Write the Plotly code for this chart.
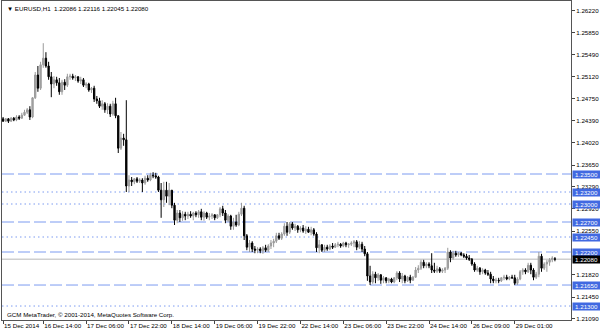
import plotly.graph_objects as go

# ---------------- data (EURUSD H1) ----------------
opens = [
1.2442,1.2438,1.2442,1.2438,1.2443,1.2440,1.2445,1.2443,1.2448,1.2453,
1.2457,1.2445,1.2477,1.2515,1.2493,1.2532,1.2543,1.2530,1.2512,1.2500,
1.2507,1.2502,1.2487,1.2503,1.2498,1.2512,1.2513,1.2510,1.2512,1.2505,
1.2507,1.2498,1.2500,1.2490,1.2493,1.2475,1.2472,1.2463,1.2467,1.2457,
1.2463,1.2450,1.2467,1.2447,1.2393,1.2410,1.2407,1.2330,1.2340,1.2337,
1.2342,1.2338,1.2340,1.2335,1.2343,1.2340,1.2348,1.2347,1.2345,1.2323,
1.2307,1.2323,1.2313,1.2323,1.2298,1.2273,1.2285,1.2277,1.2283,1.2280,
1.2283,1.2280,1.2285,1.2282,1.2287,1.2278,1.2285,1.2278,1.2280,1.2282,
1.2277,1.2282,1.2292,1.2285,1.2273,1.2280,1.2263,1.2270,1.2265,1.2283,
1.2293,1.2247,1.2228,1.2235,1.2225,1.2223,1.2225,1.2222,1.2227,1.2223,
1.2230,1.2235,1.2238,1.2247,1.2243,1.2250,1.2263,1.2253,1.2267,1.2260,
1.2263,1.2257,1.2260,1.2255,1.2258,1.2253,1.2257,1.2250,1.2227,1.2232,
1.2223,1.2228,1.2225,1.2230,1.2228,1.2232,1.2233,1.2230,1.2235,1.2232,
1.2233,1.2235,1.2237,1.2228,1.2233,1.2225,1.2217,1.2180,1.2170,1.2183,
1.2177,1.2182,1.2173,1.2177,1.2172,1.2175,1.2170,1.2177,1.2185,1.2175,
1.2180,1.2172,1.2178,1.2173,1.2178,1.2190,1.2193,1.2203,1.2197,1.2200,
1.2197,1.2190,1.2188,1.2192,1.2188,1.2190,1.2193,1.2220,1.2210,1.2218,
1.2215,1.2218,1.2215,1.2213,1.2210,1.2208,1.2200,1.2190,1.2193,1.2187,
1.2190,1.2185,1.2183,1.2175,1.2172,1.2173,1.2172,1.2177,1.2178,1.2175,
1.2178,1.2177,1.2168,1.2175,1.2187,1.2190,1.2187,1.2198,1.2190,1.2178,
1.2183,1.2213,1.2193,1.2200,1.2203,1.2207,1.22086]

highs = [
1.2445,1.2443,1.2443,1.2445,1.2445,1.2448,1.2448,1.2452,1.2457,1.2460,
1.2463,1.2478,1.2520,1.2530,1.2537,1.2568,1.2553,1.2537,1.2520,1.2513,
1.2512,1.2510,1.2507,1.2508,1.2517,1.2517,1.2517,1.2515,1.2513,1.2512,
1.2510,1.2503,1.2502,1.2495,1.2497,1.2480,1.2477,1.2473,1.2470,1.2468,
1.2467,1.2472,1.2477,1.2448,1.2420,1.2417,1.2473,1.2348,1.2345,1.2343,
1.2345,1.2343,1.2343,1.2347,1.2348,1.2352,1.2353,1.2352,1.2347,1.2335,
1.2337,1.2337,1.2335,1.2323,1.2302,1.2290,1.2290,1.2288,1.2287,1.2287,
1.2288,1.2287,1.2288,1.2290,1.2292,1.2288,1.2287,1.2285,1.2285,1.2283,
1.2283,1.2295,1.2297,1.2290,1.2283,1.2282,1.2277,1.2282,1.2287,1.2302,
1.2297,1.2250,1.2240,1.2238,1.2230,1.2228,1.2228,1.2230,1.2232,1.2233,
1.2240,1.2242,1.2252,1.2252,1.2253,1.2268,1.2270,1.2270,1.2270,1.2267,
1.2265,1.2263,1.2265,1.2263,1.2262,1.2262,1.2260,1.2253,1.2240,1.2233,
1.2232,1.2232,1.2233,1.2235,1.2235,1.2237,1.2235,1.2237,1.2237,1.2235,
1.2238,1.2240,1.2240,1.2238,1.2237,1.2230,1.2220,1.2197,1.2188,1.2187,
1.2185,1.2183,1.2180,1.2178,1.2177,1.2177,1.2178,1.2188,1.2188,1.2185,
1.2182,1.2180,1.2182,1.2180,1.2195,1.2198,1.2207,1.2207,1.2203,1.2203,
1.2218,1.2202,1.2197,1.2195,1.2193,1.2195,1.2227,1.2223,1.2222,1.2222,
1.2220,1.2220,1.2218,1.2217,1.2215,1.2210,1.2203,1.2197,1.2195,1.2193,
1.2192,1.2190,1.2187,1.2180,1.2177,1.2177,1.2178,1.2182,1.2182,1.2180,
1.2182,1.2182,1.2178,1.2190,1.2193,1.2193,1.2202,1.2202,1.2193,1.2187,
1.2220,1.2217,1.2203,1.2207,1.2210,1.2213,1.22116]

lows = [
1.2437,1.2437,1.2435,1.2437,1.2438,1.2438,1.2440,1.2442,1.2447,1.2450,
1.2440,1.2443,1.2475,1.2487,1.2490,1.2527,1.2527,1.2507,1.2478,1.2493,
1.2497,1.2482,1.2482,1.2490,1.2495,1.2507,1.2507,1.2505,1.2502,1.2500,
1.2495,1.2493,1.2487,1.2485,1.2470,1.2467,1.2460,1.2457,1.2452,1.2450,
1.2445,1.2447,1.2443,1.2385,1.2390,1.2397,1.2320,1.2320,1.2330,1.2333,
1.2335,1.2335,1.2320,1.2332,1.2337,1.2338,1.2343,1.2342,1.2320,1.2277,
1.2295,1.2302,1.2298,1.2293,1.2265,1.2268,1.2270,1.2272,1.2273,1.2275,
1.2277,1.2273,1.2278,1.2277,1.2273,1.2272,1.2275,1.2273,1.2275,1.2273,
1.2275,1.2278,1.2280,1.2268,1.2270,1.2257,1.2257,1.2262,1.2263,1.2280,
1.2240,1.2223,1.2220,1.2220,1.2218,1.2218,1.2218,1.2217,1.2220,1.2220,
1.2225,1.2228,1.2235,1.2240,1.2240,1.2247,1.2247,1.2250,1.2257,1.2255,
1.2252,1.2253,1.2252,1.2250,1.2252,1.2248,1.2247,1.2220,1.2218,1.2220,
1.2220,1.2222,1.2223,1.2225,1.2227,1.2228,1.2227,1.2228,1.2228,1.2227,
1.2230,1.2228,1.2223,1.2225,1.2220,1.2213,1.2172,1.2165,1.2167,1.2168,
1.2172,1.2167,1.2168,1.2168,1.2168,1.2168,1.2168,1.2173,1.2170,1.2168,
1.2168,1.2170,1.2168,1.2172,1.2177,1.2185,1.2190,1.2193,1.2193,1.2193,
1.2185,1.2185,1.2185,1.2185,1.2185,1.2185,1.2190,1.2203,1.2207,1.2212,
1.2212,1.2213,1.2210,1.2207,1.2205,1.2197,1.2187,1.2187,1.2182,1.2183,
1.2182,1.2180,1.2168,1.2168,1.2168,1.2168,1.2170,1.2173,1.2173,1.2173,
1.2175,1.2165,1.2165,1.2173,1.2182,1.2183,1.2185,1.2183,1.2173,1.2175,
1.2178,1.2187,1.2190,1.2187,1.2197,1.2203,1.22045]

closes = [
1.2438,1.2442,1.2438,1.2443,1.2440,1.2445,1.2443,1.2448,1.2453,1.2457,
1.2445,1.2477,1.2515,1.2493,1.2532,1.2543,1.2530,1.2512,1.2500,1.2507,
1.2502,1.2487,1.2503,1.2498,1.2512,1.2513,1.2510,1.2512,1.2505,1.2507,
1.2498,1.2500,1.2490,1.2493,1.2475,1.2472,1.2463,1.2467,1.2457,1.2463,
1.2450,1.2467,1.2447,1.2393,1.2410,1.2407,1.2330,1.2340,1.2337,1.2342,
1.2338,1.2340,1.2335,1.2343,1.2340,1.2348,1.2347,1.2345,1.2323,1.2307,
1.2323,1.2313,1.2323,1.2298,1.2273,1.2285,1.2277,1.2283,1.2280,1.2283,
1.2280,1.2285,1.2282,1.2287,1.2278,1.2285,1.2278,1.2280,1.2282,1.2277,
1.2282,1.2292,1.2285,1.2273,1.2280,1.2263,1.2270,1.2265,1.2283,1.2293,
1.2247,1.2228,1.2235,1.2225,1.2223,1.2225,1.2222,1.2227,1.2223,1.2230,
1.2235,1.2238,1.2247,1.2243,1.2250,1.2263,1.2253,1.2267,1.2260,1.2263,
1.2257,1.2260,1.2255,1.2258,1.2253,1.2257,1.2250,1.2227,1.2232,1.2223,
1.2228,1.2225,1.2230,1.2228,1.2232,1.2233,1.2230,1.2235,1.2232,1.2233,
1.2235,1.2237,1.2228,1.2233,1.2225,1.2217,1.2180,1.2170,1.2183,1.2177,
1.2182,1.2173,1.2177,1.2172,1.2175,1.2170,1.2177,1.2185,1.2175,1.2180,
1.2172,1.2178,1.2173,1.2178,1.2190,1.2193,1.2203,1.2197,1.2200,1.2197,
1.2190,1.2188,1.2192,1.2188,1.2190,1.2193,1.2220,1.2210,1.2218,1.2215,
1.2218,1.2215,1.2213,1.2210,1.2208,1.2200,1.2190,1.2193,1.2187,1.2190,
1.2185,1.2183,1.2175,1.2172,1.2173,1.2172,1.2177,1.2178,1.2175,1.2178,
1.2177,1.2168,1.2175,1.2187,1.2190,1.2187,1.2198,1.2190,1.2178,1.2183,
1.2213,1.2193,1.2200,1.2203,1.2207,1.2210,1.22080]

# time-axis labels (bar index -> label)
x_tick_bars = [0, 15, 31, 47, 63, 79, 95, 111, 127, 143, 159, 175, 191]
x_tick_labels = ["15 Dec 2014", "16 Dec 14:00", "17 Dec 06:00", "17 Dec 22:00",
                 "18 Dec 14:00", "19 Dec 06:00", "19 Dec 22:00", "22 Dec 14:00",
                 "23 Dec 06:00", "23 Dec 22:00", "24 Dec 14:00", "26 Dec 09:00",
                 "29 Dec 01:00"]

# price-axis labels (1.22180 is fully hidden behind the price boxes in the original)
y_ticks = [1.21090, 1.21450, 1.21820, 1.22550, 1.22920, 1.23290,
           1.23650, 1.24020, 1.24390, 1.24750, 1.25120, 1.25490, 1.25850, 1.26220]

# horizontal levels
dashed_levels = [1.23500, 1.22700, 1.22200, 1.21650]
dotted_levels = [1.23200, 1.23000, 1.22450, 1.21300]
current_price = 1.22080

header = "▼ EURUSD,H1  1.22086 1.22116 1.22045 1.22080"
footer = "GCM MetaTrader, © 2001-2014, MetaQuotes Software Corp."

# ---------------- figure ----------------
FONT = "Liberation Sans"
LINE_BLUE = "#7c9bf0"
BOX_BLUE = "#4169e1"
bars = list(range(len(closes)))

fig = go.Figure(go.Candlestick(
    x=bars, open=opens, high=highs, low=lows, close=closes,
    increasing=dict(line=dict(color="#9a9a9a", width=1), fillcolor="#a6a6a6"),
    decreasing=dict(line=dict(color="#000000", width=1), fillcolor="#000000"),
    whiskerwidth=0, showlegend=False, hoverinfo="skip"))

shapes = []
shapes.append(dict(type="line", xref="paper", x0=0, x1=1, yref="y",
                   y0=current_price, y1=current_price, layer="below",
                   line=dict(color="#cfcfcf", width=1.6)))
for lv in dashed_levels:
    shapes.append(dict(type="line", xref="paper", x0=0, x1=1, yref="y", y0=lv, y1=lv,
                       layer="below", line=dict(color=LINE_BLUE, width=1, dash="12px,4px")))
for lv in dotted_levels:
    shapes.append(dict(type="line", xref="paper", x0=0, x1=1, yref="y", y0=lv, y1=lv,
                       layer="below", line=dict(color=LINE_BLUE, width=1, dash="1.5px,3px")))

annotations = []
for lv in dashed_levels + dotted_levels:
    annotations.append(dict(xref="paper", x=1, xanchor="left", xshift=1,
                            yref="y", y=lv, yanchor="middle", text=f"{lv:.5f}",
                            showarrow=False, bgcolor=BOX_BLUE, width=27, height=7,
                            borderpad=0, font=dict(family=FONT, size=6.2, color="white")))
annotations.append(dict(xref="paper", x=1, xanchor="left", xshift=1,
                        yref="y", y=current_price, yanchor="middle", text=f"{current_price:.5f}",
                        showarrow=False, bgcolor="#000000", width=27, height=7,
                        borderpad=0, font=dict(family=FONT, size=6.2, color="white")))
annotations.append(dict(xref="paper", x=0, xanchor="left", xshift=3,
                        yref="paper", y=1, yanchor="top", yshift=-2,
                        text=header, showarrow=False,
                        font=dict(family=FONT, size=6.2, color="#000")))
annotations.append(dict(xref="paper", x=0, xanchor="left", xshift=3,
                        yref="paper", y=0, yanchor="bottom", yshift=0,
                        text=footer, showarrow=False,
                        font=dict(family=FONT, size=6.2, color="#000")))

fig.update_layout(
    width=600, height=333,
    margin=dict(l=2, r=29, t=1, b=13, autoexpand=False),
    paper_bgcolor="white", plot_bgcolor="white",
    font=dict(family=FONT, size=6.2, color="#000"),
    shapes=shapes, annotations=annotations,
    xaxis=dict(range=[-0.4, 212], rangeslider=dict(visible=False),
               tickmode="array", tickvals=x_tick_bars, ticktext=x_tick_labels,
               tickangle=0, automargin=False,
               ticks="outside", ticklen=3, tickcolor="#444", tickwidth=1,
               ticklabelposition="outside right",
               showline=True, linecolor="#555", linewidth=1, mirror=True,
               showgrid=False, zeroline=False,
               tickfont=dict(family=FONT, size=6.2, color="#000")),
    yaxis=dict(range=[1.21067, 1.26383], side="right", automargin=False,
               tickmode="array", tickvals=y_ticks, ticktext=[f"{v:.5f}" for v in y_ticks],
               ticks="outside", ticklen=3, tickcolor="#444", tickwidth=1,
               showline=True, linecolor="#555", linewidth=1, mirror=True,
               showgrid=False, zeroline=False,
               tickfont=dict(family=FONT, size=6.2, color="#000")),
)

fig.write_html("out.html")
